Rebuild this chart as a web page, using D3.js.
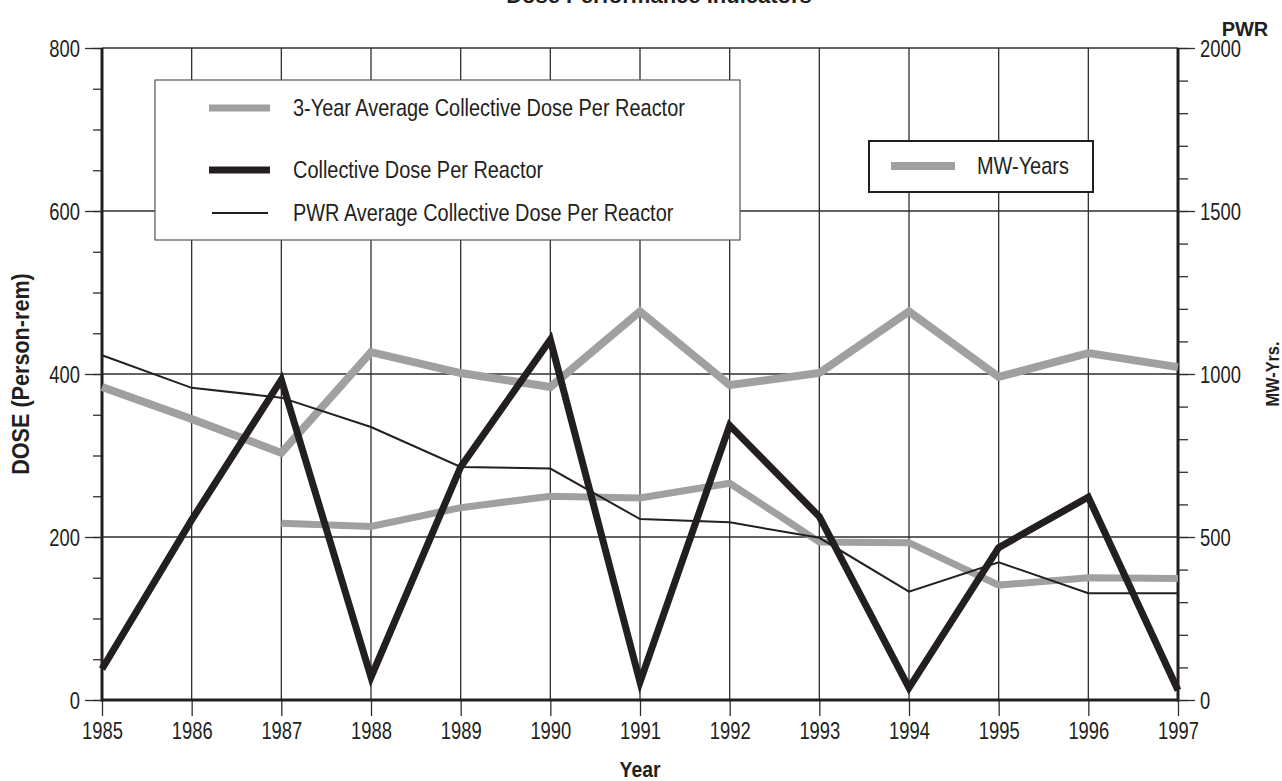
<!DOCTYPE html>
<html>
<head>
<meta charset="utf-8">
<script src="https://cdn.jsdelivr.net/npm/d3@7"></script>
<style>
  html, body { margin: 0; padding: 0; background: #fff; }
  svg { display: block; }
</style>
</head>
<body>
<svg id="chart" width="1282" height="781"></svg>
<script>
// ---- Data ----
const years = [1985, 1986, 1987, 1988, 1989, 1990, 1991, 1992, 1993, 1994, 1995, 1996, 1997];
const collectiveDose = [38, 221, 393, 28, 286, 442, 22, 337, 225, 15, 187, 249, 12];
const pwrAverageDose = [423, 383, 371, 335, 286, 284, 222, 218, 199, 133, 169, 131, 131];
const threeYearAvgDose = [null, null, 217, 213, 236, 250, 248, 266, 194, 193, 141, 150, 149];
const mwYears = [960, 862, 758, 1067, 1003, 960, 1192, 966, 1003, 1192, 991, 1064, 1021];
const leftTicks = [0, 200, 400, 600, 800];
const rightTicks = [0, 500, 1000, 1500, 2000];
const legendItems = [
  { label: "3-Year Average Collective Dose Per Reactor", kind: "avg3" },
  { label: "Collective Dose Per Reactor", kind: "dose" },
  { label: "PWR Average Collective Dose Per Reactor", kind: "pwr" }
];

const styles = {
  avg3: { color: "#a0a0a0", width: 7 },
  dose: { color: "#231f20", width: 7 },
  pwr:  { color: "#231f20", width: 2 },
  mw:   { color: "#a0a0a0", width: 8 }
};

const FONT = "Liberation Sans, Arial, Helvetica, sans-serif";
const svg = d3.select("#chart");
const L = 102, R = 1178, T = 48, B = 700;

const x = d3.scaleLinear().domain([1985, 1997]).range([L, R]);
const yL = d3.scaleLinear().domain([0, 800]).range([B, T]);
const yR = d3.scaleLinear().domain([0, 2000]).range([B, T]);

const gridColor = "#2e2e2e";

// condensed-looking text: horizontally compressed glyphs
function condensed(sel, px, py, k) {
  sel.attr("x", null).attr("y", null)
     .attr("transform", `translate(${px},${py}) scale(${k},1)`);
}

// Gridlines
const grid = svg.append("g");
grid.selectAll("line.h").data(leftTicks.filter(d => d > 0)).join("line")
  .attr("x1", L).attr("x2", R)
  .attr("y1", d => yL(d)).attr("y2", d => yL(d))
  .attr("stroke", gridColor).attr("stroke-width", 1.3);
grid.selectAll("line.v").data(years.slice(1, -1)).join("line")
  .attr("x1", d => x(d)).attr("x2", d => x(d))
  .attr("y1", T).attr("y2", B)
  .attr("stroke", gridColor).attr("stroke-width", 1.3);

// Left axis: minor ticks every 50, major every 200
const gLm = svg.append("g").attr("transform", `translate(${L},0)`)
  .call(d3.axisLeft(yL).tickValues(d3.range(0, 801, 50)).tickSize(9).tickFormat(""));
const gL = svg.append("g").attr("transform", `translate(${L},0)`)
  .call(d3.axisLeft(yL).tickValues(leftTicks).tickSize(17).tickPadding(5).tickFormat(d3.format("d")));

// Right axis: minor every 100, major every 500
const gRm = svg.append("g").attr("transform", `translate(${R},0)`)
  .call(d3.axisRight(yR).tickValues(d3.range(0, 2001, 100)).tickSize(10).tickFormat(""));
const gR = svg.append("g").attr("transform", `translate(${R},0)`)
  .call(d3.axisRight(yR).tickValues(rightTicks).tickSize(17).tickPadding(5).tickFormat(d3.format("d")));

// Bottom axis
const gB = svg.append("g").attr("transform", `translate(0,${B})`)
  .call(d3.axisBottom(x).tickValues(years).tickSize(16).tickPadding(6).tickFormat(d3.format("d")));

[gLm, gL, gRm, gR, gB].forEach(g => {
  g.attr("font-family", FONT);
  g.select(".domain").remove();
  g.selectAll(".tick line").attr("stroke", gridColor).attr("stroke-width", 1.3);
  g.selectAll(".tick text").attr("font-size", 23).attr("fill", "#231f20");
});
gL.selectAll(".tick text").attr("dy", "0.36em").each(function () {
  condensed(d3.select(this), -22, 0, 0.8);
});
gR.selectAll(".tick text").attr("dy", "0.36em").each(function () {
  condensed(d3.select(this), 22, 0, 0.8);
});
gB.selectAll(".tick text").attr("dy", "0.72em").each(function () {
  condensed(d3.select(this), 0, 22, 0.8);
});

// Axis frame lines (thick)
svg.append("line").attr("x1", L).attr("x2", L).attr("y1", T).attr("y2", B + 1.5)
  .attr("stroke", "#231f20").attr("stroke-width", 3);
svg.append("line").attr("x1", R).attr("x2", R).attr("y1", T).attr("y2", B + 1.5)
  .attr("stroke", "#231f20").attr("stroke-width", 3);
svg.append("line").attr("x1", L).attr("x2", R).attr("y1", B).attr("y2", B)
  .attr("stroke", "#231f20").attr("stroke-width", 3);

// Lines
const lineL = d3.line().defined(d => d[1] != null).x(d => x(d[0])).y(d => yL(d[1]));
const lineR = d3.line().x(d => x(d[0])).y(d => yR(d[1]));

const plot = svg.append("g").attr("fill", "none").attr("stroke-linejoin", "miter");
plot.append("path").datum(years.map((yr, i) => [yr, mwYears[i]]))
  .attr("d", lineR).attr("stroke", styles.mw.color).attr("stroke-width", styles.mw.width);
plot.append("path").datum(years.map((yr, i) => [yr, threeYearAvgDose[i]]))
  .attr("d", lineL).attr("stroke", styles.avg3.color).attr("stroke-width", styles.avg3.width);
plot.append("path").datum(years.map((yr, i) => [yr, pwrAverageDose[i]]))
  .attr("d", lineL).attr("stroke", styles.pwr.color).attr("stroke-width", styles.pwr.width);
plot.append("path").datum(years.map((yr, i) => [yr, collectiveDose[i]]))
  .attr("d", lineL).attr("stroke", styles.dose.color).attr("stroke-width", styles.dose.width);

// Legend 1
const lg = svg.append("g").attr("font-family", FONT);
lg.append("rect").attr("x", 155).attr("y", 80).attr("width", 585).attr("height", 160)
  .attr("fill", "#fff").attr("stroke", "#555").attr("stroke-width", 1.2);
const rowY = [108, 170, 213];
legendItems.forEach((it, i) => {
  const s = styles[it.kind];
  lg.append("line").attr("x1", it.kind === "pwr" ? 212 : 209).attr("x2", it.kind === "pwr" ? 268 : 270)
    .attr("y1", rowY[i]).attr("y2", rowY[i])
    .attr("stroke", s.color).attr("stroke-width", s.width);
  lg.append("text").attr("dy", "0.35em").attr("font-size", 24).attr("fill", "#231f20")
    .text(it.label).call(condensed, 293, rowY[i], 0.83);
});

// Legend 2
const lg2 = svg.append("g").attr("font-family", FONT);
lg2.append("rect").attr("x", 869).attr("y", 141).attr("width", 224).attr("height", 51)
  .attr("fill", "#fff").attr("stroke", "#231f20").attr("stroke-width", 2);
lg2.append("line").attr("x1", 891).attr("x2", 955).attr("y1", 166).attr("y2", 166)
  .attr("stroke", styles.mw.color).attr("stroke-width", styles.mw.width);
lg2.append("text").attr("dy", "0.35em").attr("font-size", 24).attr("fill", "#231f20")
  .text("MW-Years").call(condensed, 977, 166, 0.83);

// Titles and axis labels
svg.append("text").attr("x", 659).attr("y", 3).attr("text-anchor", "middle")
  .attr("font-family", FONT).attr("font-weight", "bold")
  .attr("font-size", 22).attr("fill", "#231f20").text("Dose Performance Indicators");
svg.append("text").attr("x", 1245).attr("y", 36).attr("text-anchor", "middle")
  .attr("font-family", FONT).attr("font-weight", "bold")
  .attr("font-size", 20).attr("fill", "#231f20").text("PWR");
svg.append("text").attr("transform", `translate(29,${(T + B) / 2}) rotate(-90) scale(0.9,1)`)
  .attr("text-anchor", "middle").attr("font-family", FONT).attr("font-weight", "bold")
  .attr("font-size", 24).attr("fill", "#231f20").text("DOSE (Person-rem)");
svg.append("text").attr("transform", `translate(1279,${(T + B) / 2}) rotate(-90) scale(0.86,1)`)
  .attr("text-anchor", "middle").attr("font-family", FONT).attr("font-weight", "bold")
  .attr("font-size", 19).attr("fill", "#231f20").text("MW-Yrs.");
svg.append("text").attr("transform", `translate(${(L + R) / 2},777) scale(0.88,1)`)
  .attr("text-anchor", "middle").attr("font-family", FONT).attr("font-weight", "bold")
  .attr("font-size", 22).attr("fill", "#231f20").text("Year");
</script>
</body>
</html>
